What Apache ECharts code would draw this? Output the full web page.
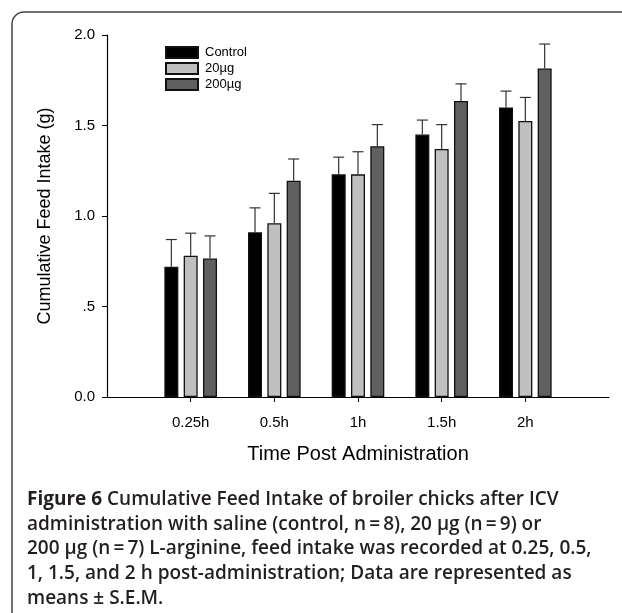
<!DOCTYPE html>
<html>
<head>
<meta charset="utf-8">
<script src="https://cdn.jsdelivr.net/npm/echarts@6/dist/echarts.min.js"></script>
<style>
  html, body { margin: 0; padding: 0; background: #fff; }
  #chart { width: 622px; height: 613px; }
</style>
</head>
<body>
<div id="chart"></div>
<script>
// time points (x categories)
const timeLabels = ['0.25h', '0.5h', '1h', '1.5h', '2h'];
const yTickLabels = ['0.0', '.5', '1.0', '1.5', '2.0'];

// group names
const groups = ['Control', '20\u00b5g', '200\u00b5g'];

// cumulative feed intake (g), mean
const controlMean = [0.72, 0.91, 1.23, 1.45, 1.60];
const lowMean = [0.78, 0.96, 1.23, 1.37, 1.525];
const highMean = [0.765, 1.195, 1.385, 1.635, 1.815];

// S.E.M.
const controlSem = [0.15, 0.135, 0.095, 0.08, 0.09];
const lowSem = [0.125, 0.165, 0.125, 0.135, 0.13];
const highSem = [0.125, 0.12, 0.12, 0.095, 0.135];

const captionLines = [
  'administration with saline (control, n\u2009=\u20098), 20 \u00b5g (n\u2009=\u20099) or',
  '200 \u00b5g (n\u2009=\u20097) L-arginine, feed intake was recorded at 0.25, 0.5,',
  '1, 1.5, and 2 h post-administration; Data are represented as',
  'means \u00b1 S.E.M.'
];

const fills = ['#000000', '#c0c0c0', '#606060'];
const means = [controlMean, lowMean, highMean];
const sems = [controlSem, lowSem, highSem];

const BAR_W = 14;
const BAR_GAP = 0.38;
const FONT = '"Liberation Sans", Arial, sans-serif';
const CAP_FONT = '"Open Sans", "Noto Sans", sans-serif';

// padding categories so the axis runs half a step past the first and last bar group
const axisCats = [''].concat(timeLabels, ['']);

const chart = echarts.init(document.getElementById('chart'));

const barSeries = groups.map((name, g) => ({
  name: name,
  type: 'bar',
  barWidth: BAR_W,
  barGap: (BAR_GAP * 100) + '%',
  itemStyle: { color: fills[g], borderColor: '#111', borderWidth: 1.3 },
  data: means[g].map((v, i) => [i + 1, v]),
  z: 2
}));

const errSeries = groups.map((name, g) => ({
  type: 'custom',
  silent: true,
  z: 3,
  data: means[g].map((v, i) => [i + 1, v, sems[g][i]]),
  renderItem: (params, api) => {
    const idx = api.value(0);
    const mean = api.value(1);
    const err = api.value(2);
    const off = (g - 1) * BAR_W * (1 + BAR_GAP);
    const base = api.coord([idx, mean]);
    const top = api.coord([idx, mean + err]);
    const x = base[0] + off;
    const style = { stroke: '#333', lineWidth: 1.2 };
    return {
      type: 'group',
      children: [
        { type: 'line', shape: { x1: x, y1: base[1], x2: x, y2: top[1] }, style: style },
        { type: 'line', shape: { x1: x - 5.5, y1: top[1], x2: x + 5.5, y2: top[1] }, style: style }
      ]
    };
  }
}));

const capTop = 490;
const capStep = 24.7;
const captionGraphics = [
  {
    type: 'text', left: 27, top: capTop,
    style: {
      text: '{b|Figure 6} Cumulative Feed Intake of broiler chicks after ICV',
      font: '600 19px ' + CAP_FONT,
      fill: '#231f20',
      rich: { b: { fontWeight: 'bold', fontSize: 19, fontFamily: CAP_FONT, fill: '#231f20' } }
    }
  }
].concat(captionLines.map((t, i) => ({
  type: 'text', left: 27, top: capTop + capStep * (i + 1),
  style: { text: t, font: '600 19px ' + CAP_FONT, fill: '#231f20' }
})));

chart.setOption({
  animation: false,
  textStyle: { fontFamily: FONT },
  grid: { left: 107, right: 13, top: 35, bottom: 216, containLabel: false },
  legend: {
    data: groups,
    icon: 'rect',
    orient: 'vertical',
    left: 165,
    top: 46,
    padding: 0,
    itemWidth: 32,
    itemHeight: 11,
    itemGap: 3,
    textStyle: { fontSize: 13, color: '#000', fontFamily: FONT, padding: [0, 0, 0, 2] }
  },
  xAxis: {
    type: 'category',
    data: axisCats,
    boundaryGap: false,
    name: 'Time Post Administration',
    nameLocation: 'middle',
    nameGap: 47,
    nameTextStyle: { fontSize: 20, color: '#000' },
    axisLine: { lineStyle: { color: '#000', width: 1.2 } },
    axisTick: {
      length: 5,
      interval: (i) => i > 0 && i < axisCats.length - 1,
      lineStyle: { color: '#000' }
    },
    axisLabel: { interval: 0, fontSize: 15, color: '#000', margin: 18 },
    splitLine: { show: false }
  },
  yAxis: {
    type: 'value',
    min: 0,
    max: 2,
    interval: 0.5,
    name: 'Cumulative Feed Intake (g)',
    nameLocation: 'middle',
    nameGap: 53,
    nameTextStyle: { fontSize: 18, color: '#000' },
    axisLine: { show: true, lineStyle: { color: '#000', width: 1.2 } },
    axisTick: { show: true, length: 5, lineStyle: { color: '#000' } },
    axisLabel: {
      fontSize: 15, color: '#000', margin: 12,
      formatter: (v, i) => yTickLabels[i]
    },
    splitLine: { show: false }
  },
  graphic: [
    {
      type: 'rect',
      shape: { x: 12, y: 12, width: 720, height: 720, r: 12 },
      style: { fill: 'none', stroke: '#444', lineWidth: 1.5 },
      silent: true
    }
  ].concat(captionGraphics),
  series: barSeries.concat(errSeries)
});
</script>
</body>
</html>
